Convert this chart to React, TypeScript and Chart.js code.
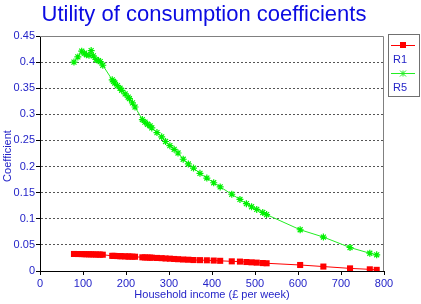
import React, { useEffect, useRef } from "react";
import { Chart, registerables } from "chart.js";
Chart.register(...registerables);

const income = [79, 88, 97, 103, 108, 114, 119, 124, 130, 136, 140, 146, 168, 171, 174, 180, 186, 190, 198, 205, 208, 215, 221, 238, 244, 250, 256, 260, 272, 283, 292, 302, 312, 321, 333, 345, 357, 372, 388, 404, 419, 446, 465, 480, 492, 504, 518, 527, 605, 659, 721, 767, 783];
const r1 = [0.0326, 0.0325, 0.0324, 0.0322, 0.0321, 0.032, 0.0319, 0.0318, 0.0316, 0.0315, 0.0314, 0.0312, 0.029, 0.0289, 0.0288, 0.0286, 0.0284, 0.0283, 0.028, 0.0278, 0.0277, 0.0275, 0.0273, 0.0262, 0.026, 0.0258, 0.0256, 0.0255, 0.025, 0.0246, 0.024, 0.0236, 0.023, 0.0226, 0.022, 0.0216, 0.021, 0.0208, 0.0205, 0.02, 0.0195, 0.0185, 0.018, 0.0172, 0.0166, 0.016, 0.0152, 0.0148, 0.0115, 0.0085, 0.005, 0.0032, 0.0022];
const r5 = [0.4, 0.41, 0.421, 0.417, 0.414, 0.413, 0.422, 0.412, 0.405, 0.403, 0.401, 0.394, 0.366, 0.363, 0.36, 0.355, 0.35, 0.346, 0.339, 0.333, 0.33, 0.322, 0.314, 0.29, 0.285, 0.281, 0.278, 0.274, 0.265, 0.257, 0.248, 0.24, 0.233, 0.226, 0.214, 0.205, 0.197, 0.187, 0.178, 0.169, 0.161, 0.147, 0.137, 0.129, 0.123, 0.118, 0.112, 0.108, 0.079, 0.065, 0.045, 0.034, 0.031];
const seriesNames = ["R1", "R5"];
const xTickLabels = ["0", "100", "200", "300", "400", "500", "600", "700", "800"];
const yTickLabels = ["0", "0.05", "0.1", "0.15", "0.2", "0.25", "0.3", "0.35", "0.4", "0.45"];
const titleText = "Utility of consumption coefficients";
const xTitle = "Household income (\u00a3 per week)";
const yTitle = "Coefficient";

const FONT = "'Liberation Sans', Arial, Helvetica, sans-serif";
const TITLE_BLUE = "#0b0be2";
const TEXT_BLUE = "#2424c8";
const RED = "#ff0000";
const GREEN = "#22ee22";

export default function App() {
  const ref = useRef<HTMLCanvasElement>(null);
  useEffect(() => {
    document.body.style.margin = "0";
    const overlay = {
      id: "overlay",
      afterDraw(chart: any) {
        const ctx = chart.ctx;
        const a = chart.chartArea;
        ctx.save();
        // plot box top and right
        ctx.strokeStyle = "#808080";
        ctx.lineWidth = 1;
        ctx.setLineDash([]);
        ctx.beginPath();
        ctx.moveTo(a.left, Math.round(a.top) + 0.5);
        ctx.lineTo(Math.round(a.right) - 0.5, Math.round(a.top) + 0.5);
        ctx.lineTo(Math.round(a.right) - 0.5, a.bottom);
        ctx.stroke();
        // title
        ctx.fillStyle = TITLE_BLUE;
        ctx.font = `22px ${FONT}`;
        ctx.textAlign = "center";
        ctx.textBaseline = "alphabetic";
        ctx.fillText(titleText, 204, 21);
        // axis titles
        ctx.fillStyle = TEXT_BLUE;
        ctx.font = `11px ${FONT}`;
        ctx.textBaseline = "middle";
        ctx.fillText(xTitle, 212, 295);
        ctx.save();
        ctx.translate(8, 156);
        ctx.rotate(-Math.PI / 2);
        ctx.fillText(yTitle, 0, 0);
        ctx.restore();
        // legend box
        ctx.strokeStyle = "#707070";
        ctx.strokeRect(388.5, 34.5, 31, 62);
        // R1
        ctx.strokeStyle = RED;
        ctx.beginPath();
        ctx.moveTo(391, 45.5);
        ctx.lineTo(415, 45.5);
        ctx.stroke();
        ctx.fillStyle = RED;
        ctx.fillRect(400, 42, 6, 6);
        ctx.fillStyle = TEXT_BLUE;
        ctx.textAlign = "left";
        ctx.font = `11px ${FONT}`;
        ctx.fillText(seriesNames[0], 393, 60);
        // R5
        ctx.strokeStyle = GREEN;
        ctx.beginPath();
        ctx.moveTo(391, 73.5);
        ctx.lineTo(415, 73.5);
        ctx.stroke();
        ctx.beginPath();
        const cx = 403, cy = 73.5, r = 3;
        ctx.moveTo(cx - r, cy); ctx.lineTo(cx + r, cy);
        ctx.moveTo(cx, cy - r); ctx.lineTo(cx, cy + r);
        ctx.moveTo(cx - r, cy - r); ctx.lineTo(cx + r, cy + r);
        ctx.moveTo(cx - r, cy + r); ctx.lineTo(cx + r, cy - r);
        ctx.stroke();
        ctx.fillStyle = TEXT_BLUE;
        ctx.fillText(seriesNames[1], 393, 88);
        ctx.restore();
      },
    };
    const chart = new Chart(ref.current!, {
      type: "line",
      data: {
        datasets: [
          {
            label: seriesNames[0],
            data: income.map((x, i) => ({ x, y: r1[i] })),
            borderColor: RED,
            borderWidth: 1,
            backgroundColor: RED,
            pointStyle: "rect",
            pointRadius: 4.3,
            pointBorderWidth: 0,
            pointBackgroundColor: RED,
            tension: 0,
          },
          {
            label: seriesNames[1],
            data: income.map((x, i) => ({ x, y: r5[i] })),
            borderColor: GREEN,
            borderWidth: 1,
            backgroundColor: "#00ff00",
            pointStyle: "star",
            pointRadius: 3.5,
            pointBorderWidth: 1.2,
            pointBorderColor: "#00f000",
            tension: 0,
          },
        ],
      },
      options: {
        animation: false,
        responsive: false,
        events: [],
        layout: { padding: { top: 36, right: 37, left: 0, bottom: 0 } },
        plugins: { legend: { display: false }, title: { display: false }, tooltip: { enabled: false } },
        scales: {
          x: {
            type: "linear",
            min: 0,
            max: 800,
            afterFit: (s: any) => { s.height = 33; },
            ticks: {
              stepSize: 100,
              color: TEXT_BLUE,
              font: { family: FONT, size: 11 },
              padding: 2,
              maxRotation: 0,
              callback: (_v: any, i: number) => xTickLabels[i],
            },
            grid: { drawOnChartArea: false, drawTicks: true, tickLength: 4, tickColor: "#000" },
            border: { color: "#000", width: 1 },
          },
          y: {
            type: "linear",
            min: 0,
            max: 0.45,
            afterFit: (s: any) => { s.width = 40; },
            ticks: {
              stepSize: 0.05,
              color: TEXT_BLUE,
              font: { family: FONT, size: 11 },
              padding: 1,
              callback: (_v: any, i: number) => yTickLabels[i],
            },
            grid: { color: "#555", lineWidth: 1, drawTicks: true, tickLength: 4, tickColor: "#000" },
            border: { color: "#000", width: 1, dash: [2, 2] },
          },
        },
      },
      plugins: [overlay],
    });
    return () => chart.destroy();
  }, []);
  return (
    <div style={{ position: "absolute", left: 0, top: 0, width: 421, height: 304, background: "#fff" }}>
      <canvas ref={ref} width={421} height={304} />
    </div>
  );
}
